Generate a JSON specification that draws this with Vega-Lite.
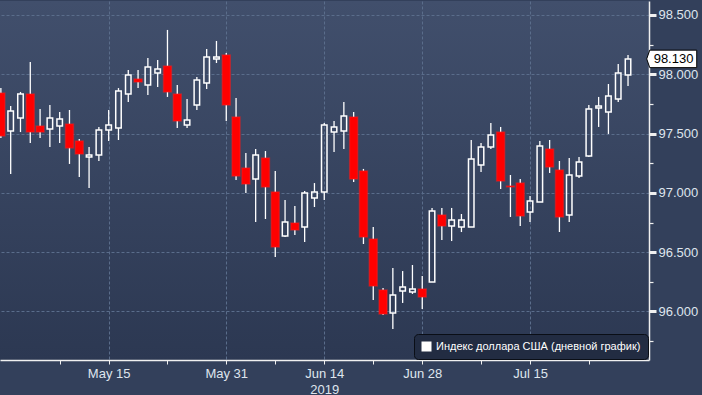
{
  "$schema": "https://vega.github.io/schema/vega-lite/v6.json",
  "width": 649,
  "height": 359,
  "autosize": {"type": "none"},
  "padding": {"left": 0, "top": 1, "right": 53, "bottom": 35},
  "background": "#33405b",
  "config": {
    "view": {"stroke": null, "fill": {"gradient": "linear", "x1": 0, "y1": 0, "x2": 0, "y2": 1, "stops": [{"offset": 0, "color": "#414f6c"}, {"offset": 1, "color": "#2c3852"}]}},
    "font": "Liberation Sans",
    "axis": {"labelFont": "Liberation Sans", "labelFontSize": 13, "labelColor": "#dfe5ee", "domainColor": "#f0f0f0", "domainWidth": 1.5, "tickColor": "#f0f0f0", "gridColor": "#5a6d8b", "gridDash": [3, 2], "gridWidth": 1, "title": null, "labelOverlap": false, "labelBound": false, "labelFlush": false}
  },
  "data": {"values": [
    {"d": "2019-04-30", "i": -1, "o": 97.842, "h": 97.884, "l": 97.463, "c": 97.480},
    {"d": "2019-05-01", "i": 0, "o": 97.522, "h": 97.733, "l": 97.159, "c": 97.691},
    {"d": "2019-05-02", "i": 1, "o": 97.632, "h": 97.851, "l": 97.513, "c": 97.834},
    {"d": "2019-05-03", "i": 2, "o": 97.834, "h": 98.104, "l": 97.421, "c": 97.513},
    {"d": "2019-05-06", "i": 3, "o": 97.564, "h": 97.707, "l": 97.463, "c": 97.513},
    {"d": "2019-05-07", "i": 4, "o": 97.539, "h": 97.741, "l": 97.387, "c": 97.632},
    {"d": "2019-05-08", "i": 5, "o": 97.564, "h": 97.682, "l": 97.421, "c": 97.623},
    {"d": "2019-05-09", "i": 6, "o": 97.581, "h": 97.699, "l": 97.244, "c": 97.379},
    {"d": "2019-05-10", "i": 7, "o": 97.438, "h": 97.454, "l": 97.134, "c": 97.328},
    {"d": "2019-05-13", "i": 8, "o": 97.303, "h": 97.387, "l": 97.041, "c": 97.320},
    {"d": "2019-05-14", "i": 9, "o": 97.320, "h": 97.556, "l": 97.269, "c": 97.530},
    {"d": "2019-05-15", "i": 10, "o": 97.530, "h": 97.699, "l": 97.438, "c": 97.573},
    {"d": "2019-05-16", "i": 11, "o": 97.547, "h": 97.884, "l": 97.446, "c": 97.859},
    {"d": "2019-05-17", "i": 12, "o": 97.834, "h": 98.036, "l": 97.766, "c": 97.994},
    {"d": "2019-05-20", "i": 13, "o": 97.960, "h": 98.036, "l": 97.884, "c": 97.935},
    {"d": "2019-05-21", "i": 14, "o": 97.910, "h": 98.137, "l": 97.825, "c": 98.062},
    {"d": "2019-05-22", "i": 15, "o": 98.011, "h": 98.121, "l": 97.893, "c": 98.045},
    {"d": "2019-05-23", "i": 16, "o": 98.070, "h": 98.374, "l": 97.809, "c": 97.851},
    {"d": "2019-05-24", "i": 17, "o": 97.834, "h": 97.910, "l": 97.547, "c": 97.606},
    {"d": "2019-05-27", "i": 18, "o": 97.573, "h": 97.792, "l": 97.547, "c": 97.615},
    {"d": "2019-05-28", "i": 19, "o": 97.741, "h": 97.977, "l": 97.699, "c": 97.952},
    {"d": "2019-05-29", "i": 20, "o": 97.927, "h": 98.213, "l": 97.876, "c": 98.146},
    {"d": "2019-05-30", "i": 21, "o": 98.129, "h": 98.281, "l": 98.095, "c": 98.146},
    {"d": "2019-05-31", "i": 22, "o": 98.163, "h": 98.180, "l": 97.606, "c": 97.741},
    {"d": "2019-06-03", "i": 23, "o": 97.640, "h": 97.800, "l": 97.109, "c": 97.142},
    {"d": "2019-06-04", "i": 24, "o": 97.210, "h": 97.336, "l": 96.999, "c": 97.075},
    {"d": "2019-06-05", "i": 25, "o": 97.117, "h": 97.370, "l": 96.755, "c": 97.320},
    {"d": "2019-06-06", "i": 26, "o": 97.294, "h": 97.353, "l": 96.780, "c": 97.050},
    {"d": "2019-06-07", "i": 27, "o": 97.008, "h": 97.185, "l": 96.460, "c": 96.544},
    {"d": "2019-06-10", "i": 28, "o": 96.637, "h": 96.940, "l": 96.628, "c": 96.755},
    {"d": "2019-06-11", "i": 29, "o": 96.746, "h": 96.890, "l": 96.645, "c": 96.687},
    {"d": "2019-06-12", "i": 30, "o": 96.712, "h": 97.016, "l": 96.586, "c": 96.999},
    {"d": "2019-06-13", "i": 31, "o": 96.957, "h": 97.083, "l": 96.881, "c": 97.008},
    {"d": "2019-06-14", "i": 32, "o": 97.008, "h": 97.589, "l": 96.940, "c": 97.573},
    {"d": "2019-06-17", "i": 33, "o": 97.513, "h": 97.606, "l": 97.345, "c": 97.556},
    {"d": "2019-06-18", "i": 34, "o": 97.522, "h": 97.766, "l": 97.370, "c": 97.648},
    {"d": "2019-06-19", "i": 35, "o": 97.640, "h": 97.682, "l": 97.092, "c": 97.117},
    {"d": "2019-06-20", "i": 36, "o": 97.185, "h": 97.202, "l": 96.569, "c": 96.628},
    {"d": "2019-06-21", "i": 37, "o": 96.611, "h": 96.712, "l": 96.097, "c": 96.215},
    {"d": "2019-06-24", "i": 38, "o": 96.181, "h": 96.198, "l": 95.970, "c": 95.979},
    {"d": "2019-06-25", "i": 39, "o": 95.987, "h": 96.367, "l": 95.852, "c": 96.139},
    {"d": "2019-06-26", "i": 40, "o": 96.173, "h": 96.341, "l": 96.072, "c": 96.207},
    {"d": "2019-06-27", "i": 41, "o": 96.164, "h": 96.392, "l": 96.148, "c": 96.190},
    {"d": "2019-06-28", "i": 42, "o": 96.190, "h": 96.299, "l": 96.021, "c": 96.122},
    {"d": "2019-07-01", "i": 43, "o": 96.249, "h": 96.873, "l": 96.249, "c": 96.847},
    {"d": "2019-07-02", "i": 44, "o": 96.814, "h": 96.873, "l": 96.603, "c": 96.721},
    {"d": "2019-07-03", "i": 45, "o": 96.721, "h": 96.873, "l": 96.594, "c": 96.771},
    {"d": "2019-07-04", "i": 46, "o": 96.712, "h": 96.822, "l": 96.670, "c": 96.771},
    {"d": "2019-07-05", "i": 47, "o": 96.712, "h": 97.446, "l": 96.712, "c": 97.286},
    {"d": "2019-07-08", "i": 48, "o": 97.235, "h": 97.421, "l": 97.176, "c": 97.387},
    {"d": "2019-07-09", "i": 49, "o": 97.387, "h": 97.589, "l": 97.370, "c": 97.488},
    {"d": "2019-07-10", "i": 50, "o": 97.513, "h": 97.556, "l": 97.033, "c": 97.100},
    {"d": "2019-07-11", "i": 51, "o": 97.058, "h": 97.151, "l": 96.797, "c": 97.050},
    {"d": "2019-07-12", "i": 52, "o": 97.083, "h": 97.117, "l": 96.721, "c": 96.805},
    {"d": "2019-07-15", "i": 53, "o": 96.839, "h": 96.974, "l": 96.755, "c": 96.932},
    {"d": "2019-07-16", "i": 54, "o": 96.923, "h": 97.438, "l": 96.923, "c": 97.395},
    {"d": "2019-07-17", "i": 55, "o": 97.370, "h": 97.446, "l": 97.168, "c": 97.218},
    {"d": "2019-07-18", "i": 56, "o": 97.193, "h": 97.269, "l": 96.670, "c": 96.797},
    {"d": "2019-07-19", "i": 57, "o": 96.814, "h": 97.294, "l": 96.755, "c": 97.151},
    {"d": "2019-07-22", "i": 58, "o": 97.142, "h": 97.303, "l": 97.126, "c": 97.261},
    {"d": "2019-07-23", "i": 59, "o": 97.311, "h": 97.741, "l": 97.303, "c": 97.707},
    {"d": "2019-07-24", "i": 60, "o": 97.716, "h": 97.809, "l": 97.556, "c": 97.733},
    {"d": "2019-07-25", "i": 61, "o": 97.682, "h": 97.918, "l": 97.497, "c": 97.817},
    {"d": "2019-07-26", "i": 62, "o": 97.792, "h": 98.087, "l": 97.766, "c": 98.011},
    {"d": "2019-07-29", "i": 63, "o": 97.994, "h": 98.163, "l": 97.901, "c": 98.130}
  ]},
  "resolve": {"axis": {"y": "independent"}},
  "encoding": {
    "x": {"field": "i", "type": "quantitative",
      "scale": {"domain": [-0.58, 64.63], "nice": false, "zero": false},
      "axis": {"orient": "bottom", "values": [5, 10, 16, 22, 27, 32, 37, 42, 48, 53, 59], "tickSize": 4, "labelPadding": 3, "labelLineHeight": 16, "labelBaseline": "top",
        "labelExpr": "datum.value == 10 ? 'May 15' : datum.value == 22 ? 'May 31' : datum.value == 32 ? ['Jun 14', '2019'] : datum.value == 42 ? 'Jun 28' : datum.value == 53 ? 'Jul 15' : ''",
        "gridOpacity": {"condition": {"test": "indexof([10, 22, 32, 42, 53], datum.value) >= 0", "value": 1}, "value": 0}}
    }
  },
  "layer": [
    {
      "transform": [{"filter": "datum.c < datum.o"}],
      "mark": {"type": "rule", "strokeWidth": 1.3},
      "encoding": {
        "y": {"field": "h", "type": "quantitative",
          "scale": {"domain": [95.591, 98.618], "nice": false, "zero": false},
          "axis": {"orient": "right", "values": [96, 96.5, 97, 97.5, 98, 98.5], "labelPadding": 2, "format": ".3f", "tickSize": 7, "tickWidth": 3, "grid": true}},
        "y2": {"field": "l"},
        "color": {"datum": "Индекс доллара США (дневной график)", "type": "nominal", "scale": {"range": ["#ffffff"]},
          "legend": {"title": null, "orient": "bottom-right", "offset": 1, "symbolType": "square", "symbolSize": 100, "symbolFillColor": "#ffffff", "symbolStrokeColor": "#ffffff", "symbolStrokeWidth": 0, "labelColor": "#ffffff", "labelFont": "Liberation Sans", "labelFontSize": 11, "fillColor": "#222c42", "strokeColor": "#0a0e16", "cornerRadius": 4, "padding": 7, "labelLimit": 400}}
      }
    },
    {
      "transform": [{"filter": "datum.c >= datum.o"}],
      "mark": {"type": "rule", "strokeWidth": 1.3},
      "encoding": {
        "y": {"field": "h", "type": "quantitative",
          "axis": {"orient": "right", "offset": 0, "values": [95.75, 96.25, 96.75, 97.25, 97.75, 98.25], "tickSize": 4, "tickWidth": 1.2, "labels": false, "domain": false, "grid": false}},
        "y2": {"field": "c"},
        "color": {"datum": "Индекс доллара США (дневной график)", "type": "nominal"}
      }
    },
    {
      "transform": [{"filter": "datum.c >= datum.o"}],
      "mark": {"type": "rule", "strokeWidth": 1.3},
      "encoding": {
        "y": {"field": "o", "type": "quantitative", "axis": null},
        "y2": {"field": "l"},
        "color": {"datum": "Индекс доллара США (дневной график)", "type": "nominal"}
      }
    },
    {
      "transform": [{"filter": "datum.c >= datum.o"}],
      "mark": {"type": "bar", "width": 5.5, "fill": "transparent", "stroke": "#ffffff", "strokeWidth": 1.5},
      "encoding": {
        "y": {"field": "o", "type": "quantitative", "axis": null},
        "y2": {"field": "c"}
      }
    },
    {
      "transform": [{"filter": "datum.c < datum.o"}],
      "mark": {"type": "bar", "width": 8, "fill": "#ff0000", "stroke": "#ff1a1a", "strokeOpacity": 0.45, "strokeWidth": 1.5},
      "encoding": {
        "y": {"field": "o", "type": "quantitative", "axis": null},
        "y2": {"field": "c"}
      }
    },
    {
      "transform": [{"filter": "datum.i == 63"}],
      "mark": {"type": "point", "shape": "M-1,0 L-0.88,-0.35 L1,-0.35 L1,0.35 L-0.88,0.35 Z", "size": 2500, "filled": true, "fill": "#ffffff", "stroke": "#000000", "strokeWidth": 1, "opacity": 1, "xOffset": 43.7},
      "encoding": {
        "y": {"field": "c", "type": "quantitative", "axis": null}
      }
    },
    {
      "transform": [{"filter": "datum.i == 63"}],
      "mark": {"type": "text", "font": "Liberation Sans", "fontSize": 13, "color": "#000000", "align": "center", "baseline": "middle", "xOffset": 45.5},
      "encoding": {
        "y": {"field": "c", "type": "quantitative", "axis": null},
        "text": {"field": "c", "type": "quantitative", "format": ".3f"}
      }
    }
  ]
}
